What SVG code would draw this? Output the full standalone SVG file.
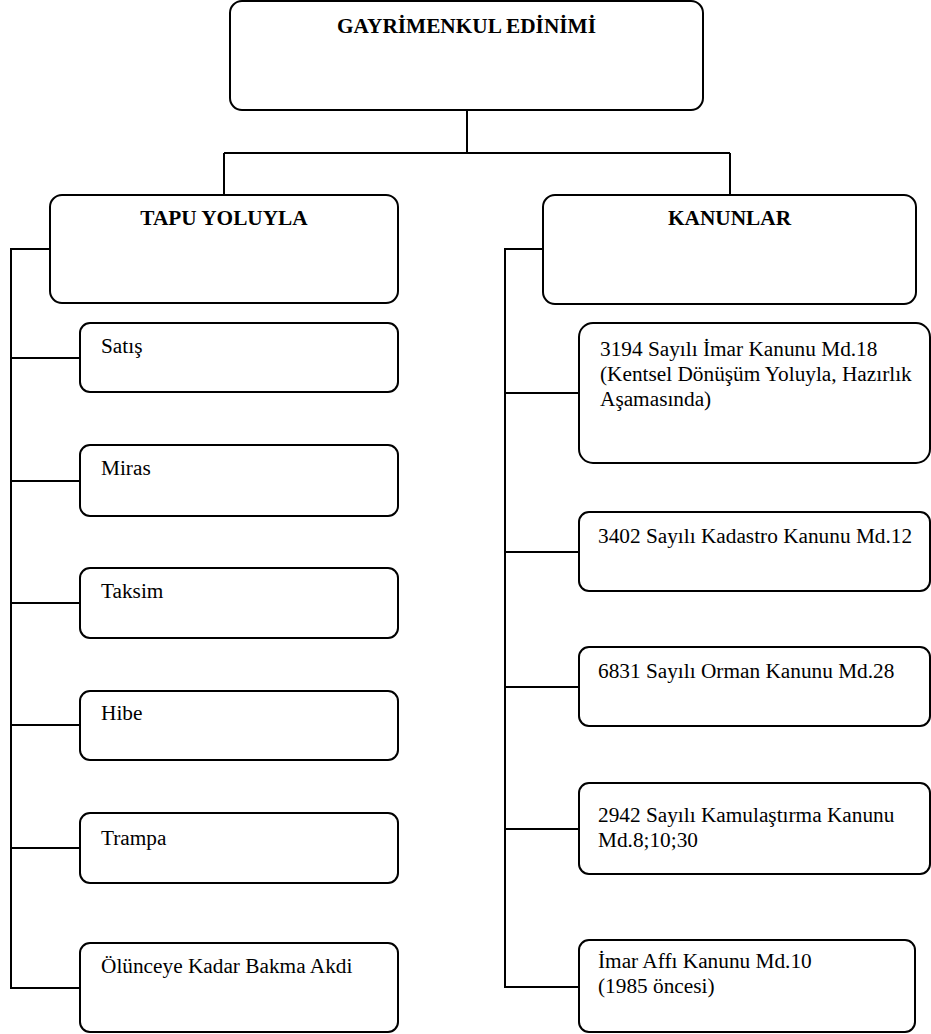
<svg xmlns="http://www.w3.org/2000/svg" width="931" height="1034" viewBox="0 0 931 1034">
  <style>
    .box { fill: #ffffff; stroke: #000000; stroke-width: 2; }
    .wire { fill: none; stroke: #000000; stroke-width: 2; }
    .t { font-family: 'Liberation Serif', 'DejaVu Serif', serif; font-size: 21.3px; fill: #000000; }
    .h { font-weight: bold; text-anchor: middle; }
  </style>
  <rect width="931" height="1034" fill="#ffffff"/>

  <!-- connectors -->
  <g id="connectors" class="wire">
    <path d="M467 110 V153 M224 153 H730 M224 153 V195 M730 153 V195"/>
    <!-- left spine -->
    <path d="M50 249 H11 V988 H80"/>
    <path d="M11 358 H80 M11 481 H80 M11 603 H80 M11 725 H80 M11 848 H80"/>
    <!-- right spine -->
    <path d="M543 249 H505 V987 H579"/>
    <path d="M505 393 H579 M505 552 H579 M505 687 H579 M505 829 H579"/>
  </g>

  <!-- root -->
  <g id="root">
    <rect class="box" x="230" y="1" width="473" height="109" rx="12"/>
    <text class="t h" x="466.5" y="33">GAYRİMENKUL EDİNİMİ</text>
  </g>

  <!-- branch headers -->
  <g id="tapu">
    <rect class="box" x="50" y="195" width="348" height="108" rx="12"/>
    <text class="t h" x="224" y="225">TAPU YOLUYLA</text>
  </g>
  <g id="kanunlar">
    <rect class="box" x="543" y="195" width="373" height="109" rx="12"/>
    <text class="t h" x="729.5" y="225">KANUNLAR</text>
  </g>

  <!-- left leaves -->
  <g id="satis">
    <rect class="box" x="80" y="323" width="318" height="69" rx="10"/>
    <text class="t" x="101" y="353">Satış</text>
  </g>
  <g id="miras">
    <rect class="box" x="80" y="445" width="318" height="71" rx="10"/>
    <text class="t" x="101" y="475">Miras</text>
  </g>
  <g id="taksim">
    <rect class="box" x="80" y="568" width="318" height="70" rx="10"/>
    <text class="t" x="101" y="598">Taksim</text>
  </g>
  <g id="hibe">
    <rect class="box" x="80" y="691" width="318" height="69" rx="10"/>
    <text class="t" x="101" y="720">Hibe</text>
  </g>
  <g id="trampa">
    <rect class="box" x="80" y="813" width="318" height="70" rx="10"/>
    <text class="t" x="101" y="845">Trampa</text>
  </g>
  <g id="olunceye">
    <rect class="box" x="80" y="943" width="318" height="89" rx="10"/>
    <text class="t" x="101" y="973">Ölünceye Kadar Bakma Akdi</text>
  </g>

  <!-- right leaves -->
  <g id="imar3194">
    <rect class="box" x="579" y="323" width="351" height="140" rx="14"/>
    <text class="t" x="600" y="356">3194 Sayılı İmar Kanunu Md.18</text>
    <text class="t" x="600" y="381">(Kentsel Dönüşüm Yoluyla, Hazırlık</text>
    <text class="t" x="600" y="406">Aşamasında)</text>
  </g>
  <g id="kadastro3402">
    <rect class="box" x="579" y="512" width="351" height="79" rx="10"/>
    <text class="t" x="598" y="543">3402 Sayılı Kadastro Kanunu Md.12</text>
  </g>
  <g id="orman6831">
    <rect class="box" x="579" y="647" width="351" height="79" rx="10"/>
    <text class="t" x="598" y="678">6831 Sayılı Orman Kanunu Md.28</text>
  </g>
  <g id="kamulastirma2942">
    <rect class="box" x="579" y="783" width="351" height="91" rx="10"/>
    <text class="t" x="598" y="822">2942 Sayılı Kamulaştırma Kanunu</text>
    <text class="t" x="598" y="847">Md.8;10;30</text>
  </g>
  <g id="imarAffi">
    <rect class="box" x="579" y="940" width="336" height="92" rx="10"/>
    <text class="t" x="598" y="968">İmar Affı Kanunu Md.10</text>
    <text class="t" x="598" y="993">(1985 öncesi)</text>
  </g>
</svg>
